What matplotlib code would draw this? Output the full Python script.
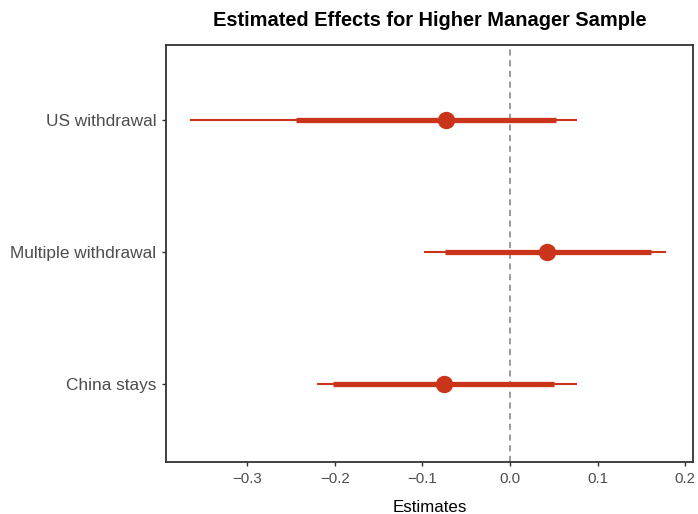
import matplotlib
matplotlib.use('Agg')
from matplotlib import pyplot as plt

# Estimates and confidence intervals
terms = ['China stays', 'Multiple withdrawal', 'US withdrawal']
estimate = [-0.075, 0.042, -0.073]
ci_outer_low = [-0.220, -0.098, -0.365]
ci_outer_high = [0.076, 0.178, 0.076]
ci_inner_low = [-0.202, -0.074, -0.244]
ci_inner_high = [0.050, 0.161, 0.053]

plt.rcParams['font.family'] = ['Liberation Sans', 'DejaVu Sans']
red = '#c9341a'

fig = plt.figure(figsize=(6.98, 5.14), dpi=100)
ax = fig.add_axes([0.2378, 0.1012, 0.755, 0.8113])

pos = list(range(1, len(terms) + 1))

ax.axvline(0, color='#7f7f7f', linestyle=(0, (4, 3)), linewidth=1.1, zorder=1)
ax.hlines(pos, ci_outer_low, ci_outer_high, color=red, linewidth=1.5, zorder=2)
ax.hlines(pos, ci_inner_low, ci_inner_high, color=red, linewidth=3.8, zorder=3)
ax.plot(estimate, pos, 'o', color=red, markersize=11.5, zorder=4)

ax.set_xlim(-0.3927, 0.2089)
ax.set_ylim(0.409, 3.568)
ax.set_yticks(pos)
ax.set_yticklabels(terms)
ax.set_xticks([-0.3, -0.2, -0.1, 0.0, 0.1, 0.2])
ax.set_xticklabels(['\u22120.3', '\u22120.2', '\u22120.1', '0.0', '0.1', '0.2'])

for s in ax.spines.values():
    s.set_color('#333333')
    s.set_linewidth(1.3)
ax.tick_params(axis='both', length=3, width=1, color='#333333', labelcolor='#4d4d4d')
ax.tick_params(axis='y', labelsize=12.4, pad=4)
ax.tick_params(axis='x', labelsize=10.8, pad=4)

ax.set_xlabel('Estimates', fontsize=12.2, labelpad=10)
ax.set_title('Estimated Effects for Higher Manager Sample', fontsize=14.4,
             fontweight='bold', pad=14)

fig.savefig('out.png', dpi=100)
